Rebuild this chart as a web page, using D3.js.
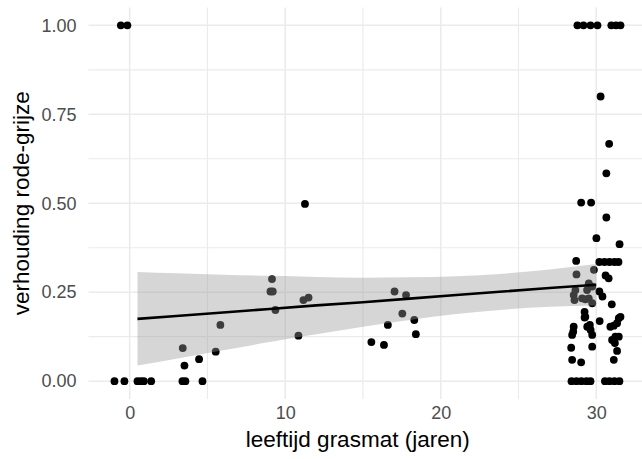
<!DOCTYPE html>
<html>
<head>
<meta charset="utf-8">
<script src="https://cdn.jsdelivr.net/npm/d3@7"></script>
<style>
  body { margin: 0; background: #fff; }
  svg { display: block; font-family: "Liberation Sans", Arial, sans-serif; }
</style>
</head>
<body>
<div id="chart"></div>
<script>
// jittered points: age of the turf (years) and red/grey ratio
const ages = [
  -0.57, -0.15,
  -0.98, -0.34, 0.50, 0.72, 0.91, 1.38, 3.39, 3.58, 4.68,
  3.41, 3.52, 4.46, 5.53, 5.83, 9.15, 9.05, 9.2, 9.37, 10.85, 11.17, 11.5, 11.27,
  17.03, 17.77, 17.53, 16.6, 18.3, 18.4, 15.54, 16.35,
  28.79, 29.18, 29.63, 30.08, 30.97, 31.27, 31.56,
  30.28, 30.83, 30.65, 29.03, 29.67, 30.65, 30.01, 31.5, 28.71,
  30.2, 30.53, 30.85, 31.17, 31.43,
  28.73, 29.85, 30.6, 30.8,
  28.66, 28.55, 28.6, 29.09, 29.41, 29.52, 29.52, 29.74, 29.74, 29.3,
  30.2, 30.4, 31.0, 29.25, 29.3,
  28.55, 28.52, 28.45, 29.25, 29.59, 29.42, 29.64, 29.74, 30.22,
  29.74, 28.39, 28.45, 29.03, 31.13, 31.34, 31.02, 31.23, 31.45, 31.2,
  30.91, 31.13, 31.45, 31.56, 31.34,
  28.41, 28.73, 29.05, 29.37, 29.63, 30.56, 30.85, 31.17, 31.49
];
const ratios = [
  1, 1,
  0, 0, 0, 0, 0, 0, 0, 0, 0,
  0.093, 0.044, 0.062, 0.083, 0.158, 0.287, 0.252, 0.252, 0.2, 0.128, 0.228, 0.235, 0.498,
  0.252, 0.242, 0.19, 0.158, 0.172, 0.132, 0.11, 0.102,
  1, 1, 1, 1, 1, 1, 1,
  0.8, 0.667, 0.584, 0.502, 0.502, 0.46, 0.402, 0.385, 0.338,
  0.335, 0.335, 0.335, 0.335, 0.335,
  0.3, 0.313, 0.297, 0.289,
  0.256, 0.242, 0.228, 0.233, 0.256, 0.275, 0.233, 0.219, 0.266, 0.23,
  0.252, 0.238, 0.216, 0.195, 0.181,
  0.153, 0.139, 0.13, 0.179, 0.158, 0.153, 0.144, 0.13, 0.169,
  0.097, 0.094, 0.06, 0.053, 0.06, 0.085, 0.116, 0.125, 0.125, 0.107,
  0.153, 0.156, 0.177, 0.181, 0.163,
  0, 0, 0, 0, 0, 0, 0, 0, 0
];

// lm fit with 95% band
const fitX = [0.5, 3, 6, 9, 12, 15, 18, 21, 24, 27, 30];
const fitY = [0.175, 0.183, 0.193, 0.203, 0.213, 0.222, 0.232, 0.242, 0.252, 0.262, 0.271];
const fitLo = [0.044, 0.063, 0.087, 0.110, 0.132, 0.153, 0.172, 0.189, 0.201, 0.209, 0.213];
const fitHi = [0.307, 0.303, 0.299, 0.296, 0.293, 0.291, 0.292, 0.295, 0.302, 0.314, 0.329];

const xTicks = [0, 10, 20, 30];
const xMinor = [5, 15, 25];
const yTicks = [0, 0.25, 0.5, 0.75, 1];
const yMinor = [0.125, 0.375, 0.625, 0.875];

const width = 642;
const height = 459;
const panel = { left: 88.5, right: 646, top: 7.5, bottom: 399 };

const points = ages.map((a, i) => ({ x: a, y: ratios[i] }));
const fit = fitX.map((x, i) => ({ x, y: fitY[i], lo: fitLo[i], hi: fitHi[i] }));

const svg = d3
  .select('#chart')
  .append('svg')
  .attr('width', width)
  .attr('height', height);

const xScale = d3.scaleLinear().domain([-2.65, 33.2]).range([panel.left, panel.right]);
const yScale = d3.scaleLinear().domain([-0.05, 1.05]).range([panel.bottom, panel.top]);

// gridlines (minor first, then major)
const grid = svg.append('g').attr('class', 'grid');
grid.selectAll('line.xminor')
  .data(xMinor.concat(xTicks))
  .join('line')
  .attr('x1', (d) => xScale(d)).attr('x2', (d) => xScale(d))
  .attr('y1', panel.top).attr('y2', panel.bottom)
  .attr('stroke', '#ebebeb')
  .attr('stroke-width', (d) => (xTicks.includes(d) ? 1.6 : 1.2));
grid.selectAll('line.yminor')
  .data(yMinor.concat(yTicks))
  .join('line')
  .attr('x1', panel.left).attr('x2', panel.right)
  .attr('y1', (d) => yScale(d)).attr('y2', (d) => yScale(d))
  .attr('stroke', '#ebebeb')
  .attr('stroke-width', (d) => (yTicks.includes(d) ? 1.6 : 1.2));

// points
svg.append('g')
  .selectAll('circle')
  .data(points)
  .join('circle')
  .attr('cx', (d) => xScale(d.x))
  .attr('cy', (d) => yScale(d.y))
  .attr('r', 3.9)
  .attr('fill', '#000');

// confidence band + fitted line
const area = d3.area()
  .x((d) => xScale(d.x))
  .y0((d) => yScale(d.lo))
  .y1((d) => yScale(d.hi))
  .curve(d3.curveMonotoneX);
svg.append('path')
  .datum(fit)
  .attr('d', area)
  .attr('fill', '#999999')
  .attr('fill-opacity', 0.4);

const line = d3.line()
  .x((d) => xScale(d.x))
  .y((d) => yScale(d.y));
svg.append('path')
  .datum(fit)
  .attr('d', line)
  .attr('fill', 'none')
  .attr('stroke', '#000')
  .attr('stroke-width', 2.6);

// axes
const yAxis = svg.append('g')
  .attr('transform', `translate(${panel.left},0)`)
  .call(d3.axisLeft(yScale).tickValues(yTicks).tickFormat(d3.format('.2f')).tickSize(0).tickPadding(12));
const xAxis = svg.append('g')
  .attr('transform', `translate(0,${panel.bottom})`)
  .call(d3.axisBottom(xScale).tickValues(xTicks).tickSize(0).tickPadding(7.5));
[xAxis, yAxis].forEach((g) => {
  g.select('.domain').remove();
  g.selectAll('text')
    .attr('fill', '#4d4d4d')
    .style('font-size', '18px')
    .style('font-family', '"Liberation Sans", Arial, sans-serif');
});

// titles
svg.append('text')
  .attr('x', (panel.left + 627) / 2)
  .attr('y', 447)
  .attr('text-anchor', 'middle')
  .style('font-size', '22.5px')
  .text('leeftijd grasmat (jaren)');

svg.append('text')
  .attr('transform', `translate(29,${(panel.top + panel.bottom) / 2}) rotate(-90)`)
  .attr('text-anchor', 'middle')
  .style('font-size', '22.5px')
  .text('verhouding rode-grijze');
</script>
</body>
</html>
